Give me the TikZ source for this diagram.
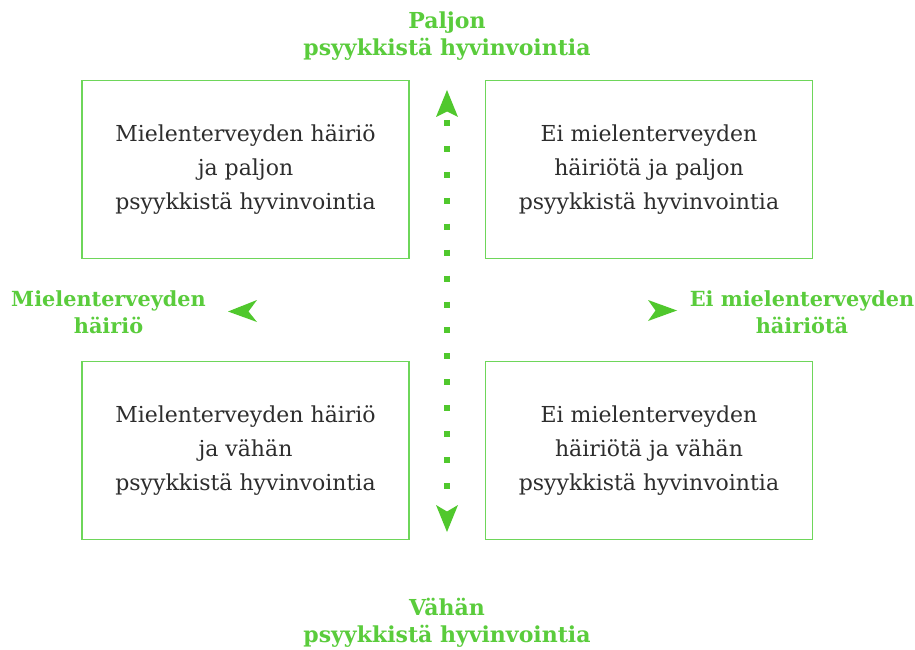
\documentclass[tikz,border=0pt]{standalone}
\usepackage{fontspec}
\setmainfont{DejaVu Serif}
\begin{document}
\begin{tikzpicture}[x=1pt,y=-1pt,
  every node/.style={inner sep=0pt, outer sep=0pt},
  quad/.style={draw=boxgreen, line width=1.1pt, minimum width=327pt, minimum height=178pt,
    align=center, text=textgray, font=\fontsize{22}{34}\selectfont},
  axislabel/.style={align=center, text=labgreen, font=\fontsize{22}{27}\selectfont\bfseries},
  sidelabel/.style={axislabel, font=\fontsize{20.8}{27}\selectfont\bfseries},
  tipfill/.style={fill=arrowgreen, draw=none}]
\definecolor{boxgreen}{RGB}{110,214,90}
\definecolor{labgreen}{RGB}{90,204,60}
\definecolor{arrowgreen}{RGB}{80,200,45}
\definecolor{textgray}{RGB}{45,45,45}
\useasboundingbox (0,0) rectangle (915,650);
\fill[white] (0,0) rectangle (915,650);

\node[quad] (tl) at (245.5,169.5) {Mielenterveyden häiriö\\ja paljon\\psyykkistä hyvinvointia};
\node[quad] (tr) at (649,169.5) {Ei mielenterveyden\\häiriötä ja paljon\\psyykkistä hyvinvointia};
\node[quad] (bl) at (245.5,450.5) {Mielenterveyden häiriö\\ja vähän\\psyykkistä hyvinvointia};
\node[quad] (br) at (649,450.5) {Ei mielenterveyden\\häiriötä ja vähän\\psyykkistä hyvinvointia};

\node[axislabel] (top) at (447,36) {Paljon\\psyykkistä hyvinvointia};
\node[axislabel] (bot) at (447,623) {Vähän\\psyykkistä hyvinvointia};
\node[sidelabel] (left) at (108.5,312) {Mielenterveyden\\häiriö};
\node[sidelabel] (right) at (802,312) {Ei mielenterveyden\\häiriötä};

% vertical dotted axis
\coordinate (d1) at (447,120);
\coordinate (d2) at (447,489);
\draw[arrowgreen, line width=6pt, dash pattern=on 6pt off 19.93pt] (d1) -- (d2);

% arrow heads
\fill[tipfill] (447,90) -- (458,117) -- (447,111.5) -- (436,117) -- cycle;
\fill[tipfill] (447,532) -- (458,505) -- (447,511.5) -- (436,505) -- cycle;
\fill[tipfill] (228,311.5) -- (257,300) -- (248.5,311.5) -- (257,322) -- cycle;
\fill[tipfill] (677,310.5) -- (648,300) -- (655.5,310.5) -- (648,321) -- cycle;
\end{tikzpicture}
\end{document}
